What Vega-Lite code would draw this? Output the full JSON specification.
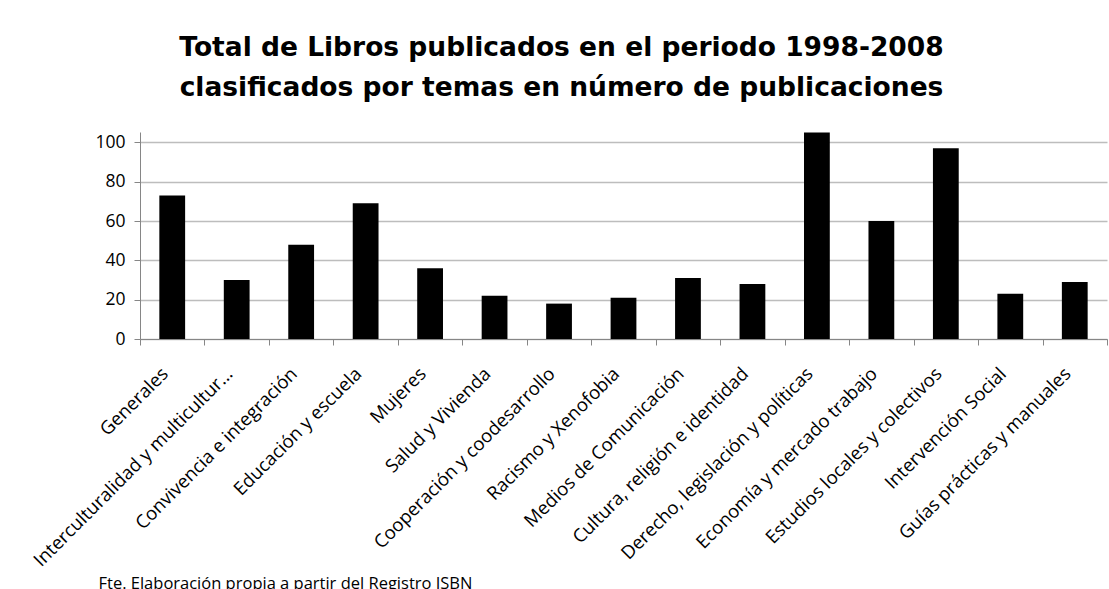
{
  "$schema": "https://vega.github.io/schema/vega-lite/v6.json",
  "width": 967,
  "height": 207,
  "autosize": {"type": "none"},
  "padding": {"left": 140, "top": 132, "right": 2, "bottom": 250},
  "background": "white",
  "title": {
    "text": ["Total de Libros publicados en el periodo 1998-2008", "clasificados por temas en número de publicaciones"],
    "font": "DejaVu Sans",
    "fontSize": 26.5,
    "fontWeight": "bold",
    "color": "black",
    "anchor": "middle",
    "dx": -62,
    "offset": 31,
    "lineHeight": 40
  },
  "data": {
    "values": [
      {"tema": "Generales", "publicaciones": 73},
      {"tema": "Interculturalidad y multicultur...", "publicaciones": 30},
      {"tema": "Convivencia e integración", "publicaciones": 48},
      {"tema": "Educación y escuela", "publicaciones": 69},
      {"tema": "Mujeres", "publicaciones": 36},
      {"tema": "Salud y Vivienda", "publicaciones": 22},
      {"tema": "Cooperación y coodesarrollo", "publicaciones": 18},
      {"tema": "Racismo y Xenofobia", "publicaciones": 21},
      {"tema": "Medios de Comunicación", "publicaciones": 31},
      {"tema": "Cultura, religión e identidad", "publicaciones": 28},
      {"tema": "Derecho, legislación y políticas", "publicaciones": 105},
      {"tema": "Economía y mercado trabajo", "publicaciones": 60},
      {"tema": "Estudios locales y colectivos", "publicaciones": 97},
      {"tema": "Intervención Social", "publicaciones": 23},
      {"tema": "Guías prácticas y manuales", "publicaciones": 29}
    ]
  },
  "mark": {"type": "bar", "color": "black", "width": {"band": 0.4}},
  "encoding": {
    "x": {
      "field": "tema",
      "type": "nominal",
      "sort": null,
      "scale": {"paddingInner": 0, "paddingOuter": 0},
      "axis": {
        "tickBand": "extent",
        "domainColor": "#868686",
        "tickColor": "#868686",
        "tickSize": 6,
        "labelAngle": -45,
        "labelFont": "Open Sans",
        "labelFontSize": 18.5,
        "labelColor": "black",
        "labelPadding": 19,
        "labelOffset": -14,
        "labelLimit": 0,
        "title": "Fte. Elaboración propia a partir del Registro ISBN",
        "titleX": -42,
        "titleY": 249,
        "titleAlign": "left",
        "titleAnchor": "start",
        "titleBaseline": "alphabetic",
        "titleFont": "Open Sans",
        "titleFontSize": 16.5,
        "titleFontWeight": "normal",
        "titleColor": "black"
      }
    },
    "y": {
      "field": "publicaciones",
      "type": "quantitative",
      "scale": {"domain": [0, 105.3], "nice": false},
      "axis": {
        "values": [0, 20, 40, 60, 80, 100],
        "gridColor": "#bdbdbd",
        "gridWidth": 1.5,
        "domainColor": "#868686",
        "tickColor": "#868686",
        "tickSize": 6,
        "labelFont": "Open Sans",
        "labelFontSize": 17.5,
        "labelColor": "black",
        "labelPadding": 9,
        "title": null
      }
    }
  },
  "config": {"view": {"stroke": null}}
}
